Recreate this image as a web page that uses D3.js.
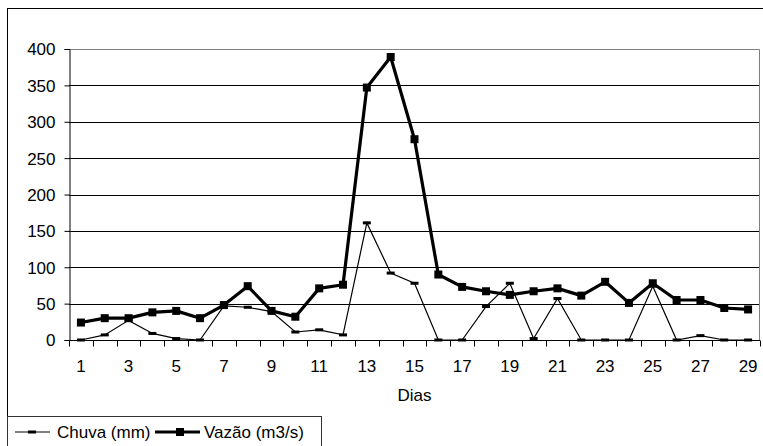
<!DOCTYPE html>
<html><head><meta charset="utf-8">
<script src="https://cdn.jsdelivr.net/npm/d3@7"></script>
<style>html,body{margin:0;padding:0;background:#fff;}svg{display:block;} text{font-family:"Liberation Sans",Arial,sans-serif;}</style>
</head><body><svg id="c" width="763" height="446"></svg>
<script>
const days = d3.range(1, 30);
const chuva = [0,7,27,9,2,0,47,45,39,11,14,7,161,92,78,0,0,46,78,2,57,0,0,0,74,0,6,0,0];
const vazao = [24,30,30,38,40,30,48,74,40,32,71,76,347,389,276,90,73,67,62,67,71,61,80,51,78,55,55,44,42];
const yTicks = [0,50,100,150,200,250,300,350,400];
const xLabels = [1,3,5,7,9,11,13,15,17,19,21,23,25,27,29];
const seriesNames = ["Chuva (mm)", "Vazão (m3/s)"];

const FONT = "Liberation Sans, Arial, sans-serif";
const FS = 17;
const svg = d3.select("#c");
const L = 69, R = 760, T = 49, B = 340;

// outer frame
svg.append("rect").attr("x",7.5).attr("y",8.5).attr("width",761).attr("height",446).attr("fill","none").attr("stroke","#000");

const x = d3.scaleBand().domain(days).range([L, R]).paddingInner(0).paddingOuter(0);
const y = d3.scaleLinear().domain([0,400]).range([B, T]);

// gridlines
svg.append("g").selectAll("line").data(yTicks.filter(d=>d>0 && d<400)).join("line")
  .attr("x1",L).attr("x2",R).attr("y1",d=>Math.round(y(d))+0.5).attr("y2",d=>Math.round(y(d))+0.5)
  .attr("stroke","#000").attr("stroke-width",1);
// plot area border top/right (gray)
svg.append("path").attr("d",`M${L},${T+0.5}H${R-0.5}V${B}`).attr("fill","none").attr("stroke","#808080");

// y axis
const yAxis = d3.axisLeft(y).tickValues(yTicks).tickSize(5).tickPadding(9);
const gy = svg.append("g").attr("transform",`translate(${L+0.5},0)`).call(yAxis);
gy.attr("font-family",FONT).attr("font-size",FS);
gy.select(".domain").attr("stroke","#000");
gy.selectAll("text").attr("fill","#000").attr("dy","0.35em");

// x axis: ticks at category boundaries
const gx = svg.append("g").attr("transform",`translate(0,${Math.round(B)+0.5})`);
gx.append("line").attr("x1",L).attr("x2",R).attr("stroke","#000");
const bounds = days.map(d=>x(d)).concat([R]);
gx.selectAll("line.t").data(bounds).join("line").attr("class","t")
  .attr("x1",d=>Math.round(d)+0.5).attr("x2",d=>Math.round(d)+0.5).attr("y1",0).attr("y2",6).attr("stroke","#000");
gx.selectAll("text").data(xLabels).join("text")
  .attr("x",d=>x(d)+x.bandwidth()/2).attr("y",31.5).attr("text-anchor","middle")
  .attr("font-family",FONT).attr("font-size",FS).attr("fill","#000").text(d=>d);
svg.append("text").attr("x",(L+R)/2).attr("y",401).attr("text-anchor","middle")
  .attr("font-family",FONT).attr("font-size",FS).text("Dias");

const cx = d => x(d)+x.bandwidth()/2;
const line = d3.line().x((v,i)=>cx(days[i])).y(v=>y(v));
// chuva line
svg.append("path").datum(chuva).attr("d",line).attr("fill","none").attr("stroke","#000").attr("stroke-width",1.2);
svg.append("g").selectAll("rect").data(chuva).join("rect")
  .attr("x",(v,i)=>cx(days[i])-4).attr("y",v=>y(v)-1.5).attr("width",8).attr("height",3).attr("fill","#000");
// vazao line
svg.append("path").datum(vazao).attr("d",line).attr("fill","none").attr("stroke","#000").attr("stroke-width",3.2).attr("stroke-linejoin","round");
svg.append("g").selectAll("rect").data(vazao).join("rect")
  .attr("x",(v,i)=>cx(days[i])-4).attr("y",v=>y(v)-4).attr("width",8).attr("height",8).attr("fill","#000");

// legend
const lg = svg.append("g").attr("font-family",FONT).attr("font-size",FS);
lg.append("rect").attr("x",7.5).attr("y",416.5).attr("width",314).attr("height",40).attr("fill","#fff").attr("stroke","#333");
lg.append("line").attr("x1",15).attr("x2",50).attr("y1",432).attr("y2",432).attr("stroke","#000").attr("stroke-width",1.2);
lg.append("rect").attr("x",28).attr("y",430.5).attr("width",8).attr("height",3).attr("fill","#000");
lg.append("text").attr("x",57).attr("y",438).text(seriesNames[0]);
lg.append("line").attr("x1",155).attr("x2",200).attr("y1",432).attr("y2",432).attr("stroke","#000").attr("stroke-width",3.2);
lg.append("rect").attr("x",176).attr("y",428).attr("width",8).attr("height",8).attr("fill","#000");
lg.append("text").attr("x",204).attr("y",438).text(seriesNames[1]);
</script></body></html>
